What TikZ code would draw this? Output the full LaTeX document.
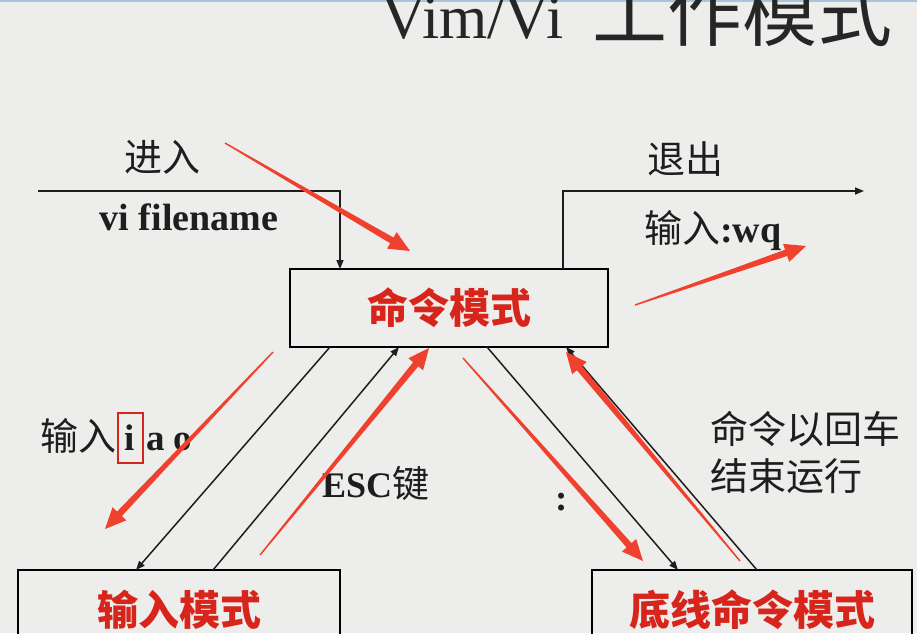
\documentclass[tikz,border=0pt]{standalone}
\usepackage{fontspec}
\setmainfont{Liberation Serif}
\newfontfamily\cjk{Noto Sans CJK SC}
\usetikzlibrary{arrows.meta,calc}
\definecolor{bgc}{HTML}{EDEDEB}
\definecolor{modered}{HTML}{D8251C}
\definecolor{annotred}{HTML}{F0412E}
\definecolor{inkc}{HTML}{1E1E1E}
\definecolor{titlec}{HTML}{262626}
\definecolor{topline}{HTML}{A8C4DA}
\newcommand\redarrow[2]{%
  \coordinate (hb) at ($(#2)!21pt!(#1)$);
  \fill[annot] ($(#1)!0.7pt!90:(#2)$) -- ($(hb)!3.3pt!90:(#2)$) -- ($(hb)!9.5pt!90:(#2)$) -- (#2)
    -- ($(hb)!9.5pt!-90:(#2)$) -- ($(hb)!3.3pt!-90:(#2)$) -- ($(#1)!0.7pt!-90:(#2)$) -- cycle;}
\begin{document}
\begin{tikzpicture}[x=1pt,y=-1pt,
  modebox/.style={draw=black, line width=2pt, inner sep=0pt, minimum height=80pt,
    text=modered, font=\cjk\bfseries\fontsize{41}{41}\selectfont},
  conn/.style={draw=inkc, line width=1.5pt},
  tipc/.style={-{Triangle[length=9pt,width=7pt]}},
  lbl/.style={text=inkc, inner sep=0pt, font=\cjk\fontsize{38}{38}\selectfont},
  latlbl/.style={text=inkc, inner sep=0pt, font=\bfseries\fontsize{37}{37}\selectfont},
  annot/.style={fill=annotred}]
\useasboundingbox (0,0) rectangle (917,633);
\clip (0,0) rectangle (917,633);
\fill[bgc] (0,0) rectangle (917,633);
\draw[topline, line width=1.5pt] (0,1) -- (917,1);

% title (cut at the top edge, as in the reference)
\node[anchor=base west, inner sep=0pt, text=titlec, font=\fontsize{62}{62}\selectfont] (tl) at (381,38) {Vim/Vi};
\node[anchor=base west, inner sep=0pt, text=titlec, font=\cjk\fontsize{75}{75}\selectfont] (tc) at (592,40) {工作模式};

% mode boxes
\node[modebox, minimum width=318pt, minimum height=78pt] (cmd) at (449,308) {命令模式};
\node[modebox, minimum width=322pt] (ins) at (179,610) {输入模式};
\node[modebox, minimum width=320pt] (last) at (752,610) {底线命令模式};

% enter / exit
\coordinate (enterS) at (38,191);
\coordinate (cmdIn) at (340,269);
\draw[conn, tipc] (enterS) -| (cmdIn);
\coordinate (cmdOut) at (563,269);
\coordinate (exitE) at (864,191);
\draw[conn, tipc] (cmdOut) |- (exitE);

\node[lbl] (enterL) at (162,157) {进入};
\node[latlbl, anchor=base, font=\bfseries\fontsize{38}{38}\selectfont] (viL) at (189,230) {vi filename};
\node[lbl] (exitL) at (685,159) {退出};
\node[anchor=base west, inner sep=0pt, text=inkc] (wqL) at (644,242) {{\cjk\fontsize{38}{38}\selectfont 输入}{\bfseries\fontsize{38}{38}\selectfont :wq}};

% transitions
\coordinate (c1) at (330,347); \coordinate (i1) at (136,570);
\coordinate (i2) at (213,570); \coordinate (c2) at (399,347);
\coordinate (c3) at (487,347); \coordinate (l1) at (678,570);
\coordinate (l2) at (757,570); \coordinate (c4) at (566,347);
\draw[conn, tipc] (c1) -- (i1);
\draw[conn, tipc] (i2) -- (c2);
\draw[conn, tipc] (c3) -- (l1);
\draw[conn, tipc] (l2) -- (c4);

% labels on transitions
\node[lbl, anchor=base west] (insL) at (40,450) {输入};
\node[latlbl, anchor=base] (iL) at (130,450) {i};
\node[draw=modered, line width=1.3pt, minimum width=25pt, minimum height=50pt, inner sep=0pt] (ibox) at (130.5,438) {};
\node[latlbl, anchor=base west] (aoL) at (146,450) {a o};
\node[anchor=base west, inner sep=0pt, text=inkc] (escL) at (322,497) {{\bfseries\fontsize{36}{36}\selectfont ESC}{\cjk\fontsize{37}{37}\selectfont 键}};
\node[latlbl, anchor=base] (colonL) at (562,510) {:};
\node[lbl, anchor=west] (runL1) at (710,429) {命令以回车};
\node[lbl, anchor=west] (runL2) at (710,476) {结束运行};

% red annotation arrows
\coordinate (r1s) at (225,143); \coordinate (r1t) at (410,251);
\coordinate (r2s) at (635,305); \coordinate (r2t) at (806,246);
\coordinate (r3s) at (273,352); \coordinate (r3t) at (105,529);
\coordinate (r4s) at (260,555); \coordinate (r4t) at (429,348);
\coordinate (r5s) at (463,358); \coordinate (r5t) at (643,561);
\coordinate (r6s) at (740,561); \coordinate (r6t) at (566,352);
\redarrow{r1s}{r1t}
\redarrow{r2s}{r2t}
\redarrow{r3s}{r3t}
\redarrow{r4s}{r4t}
\redarrow{r5s}{r5t}
\redarrow{r6s}{r6t}
\end{tikzpicture}
\end{document}
